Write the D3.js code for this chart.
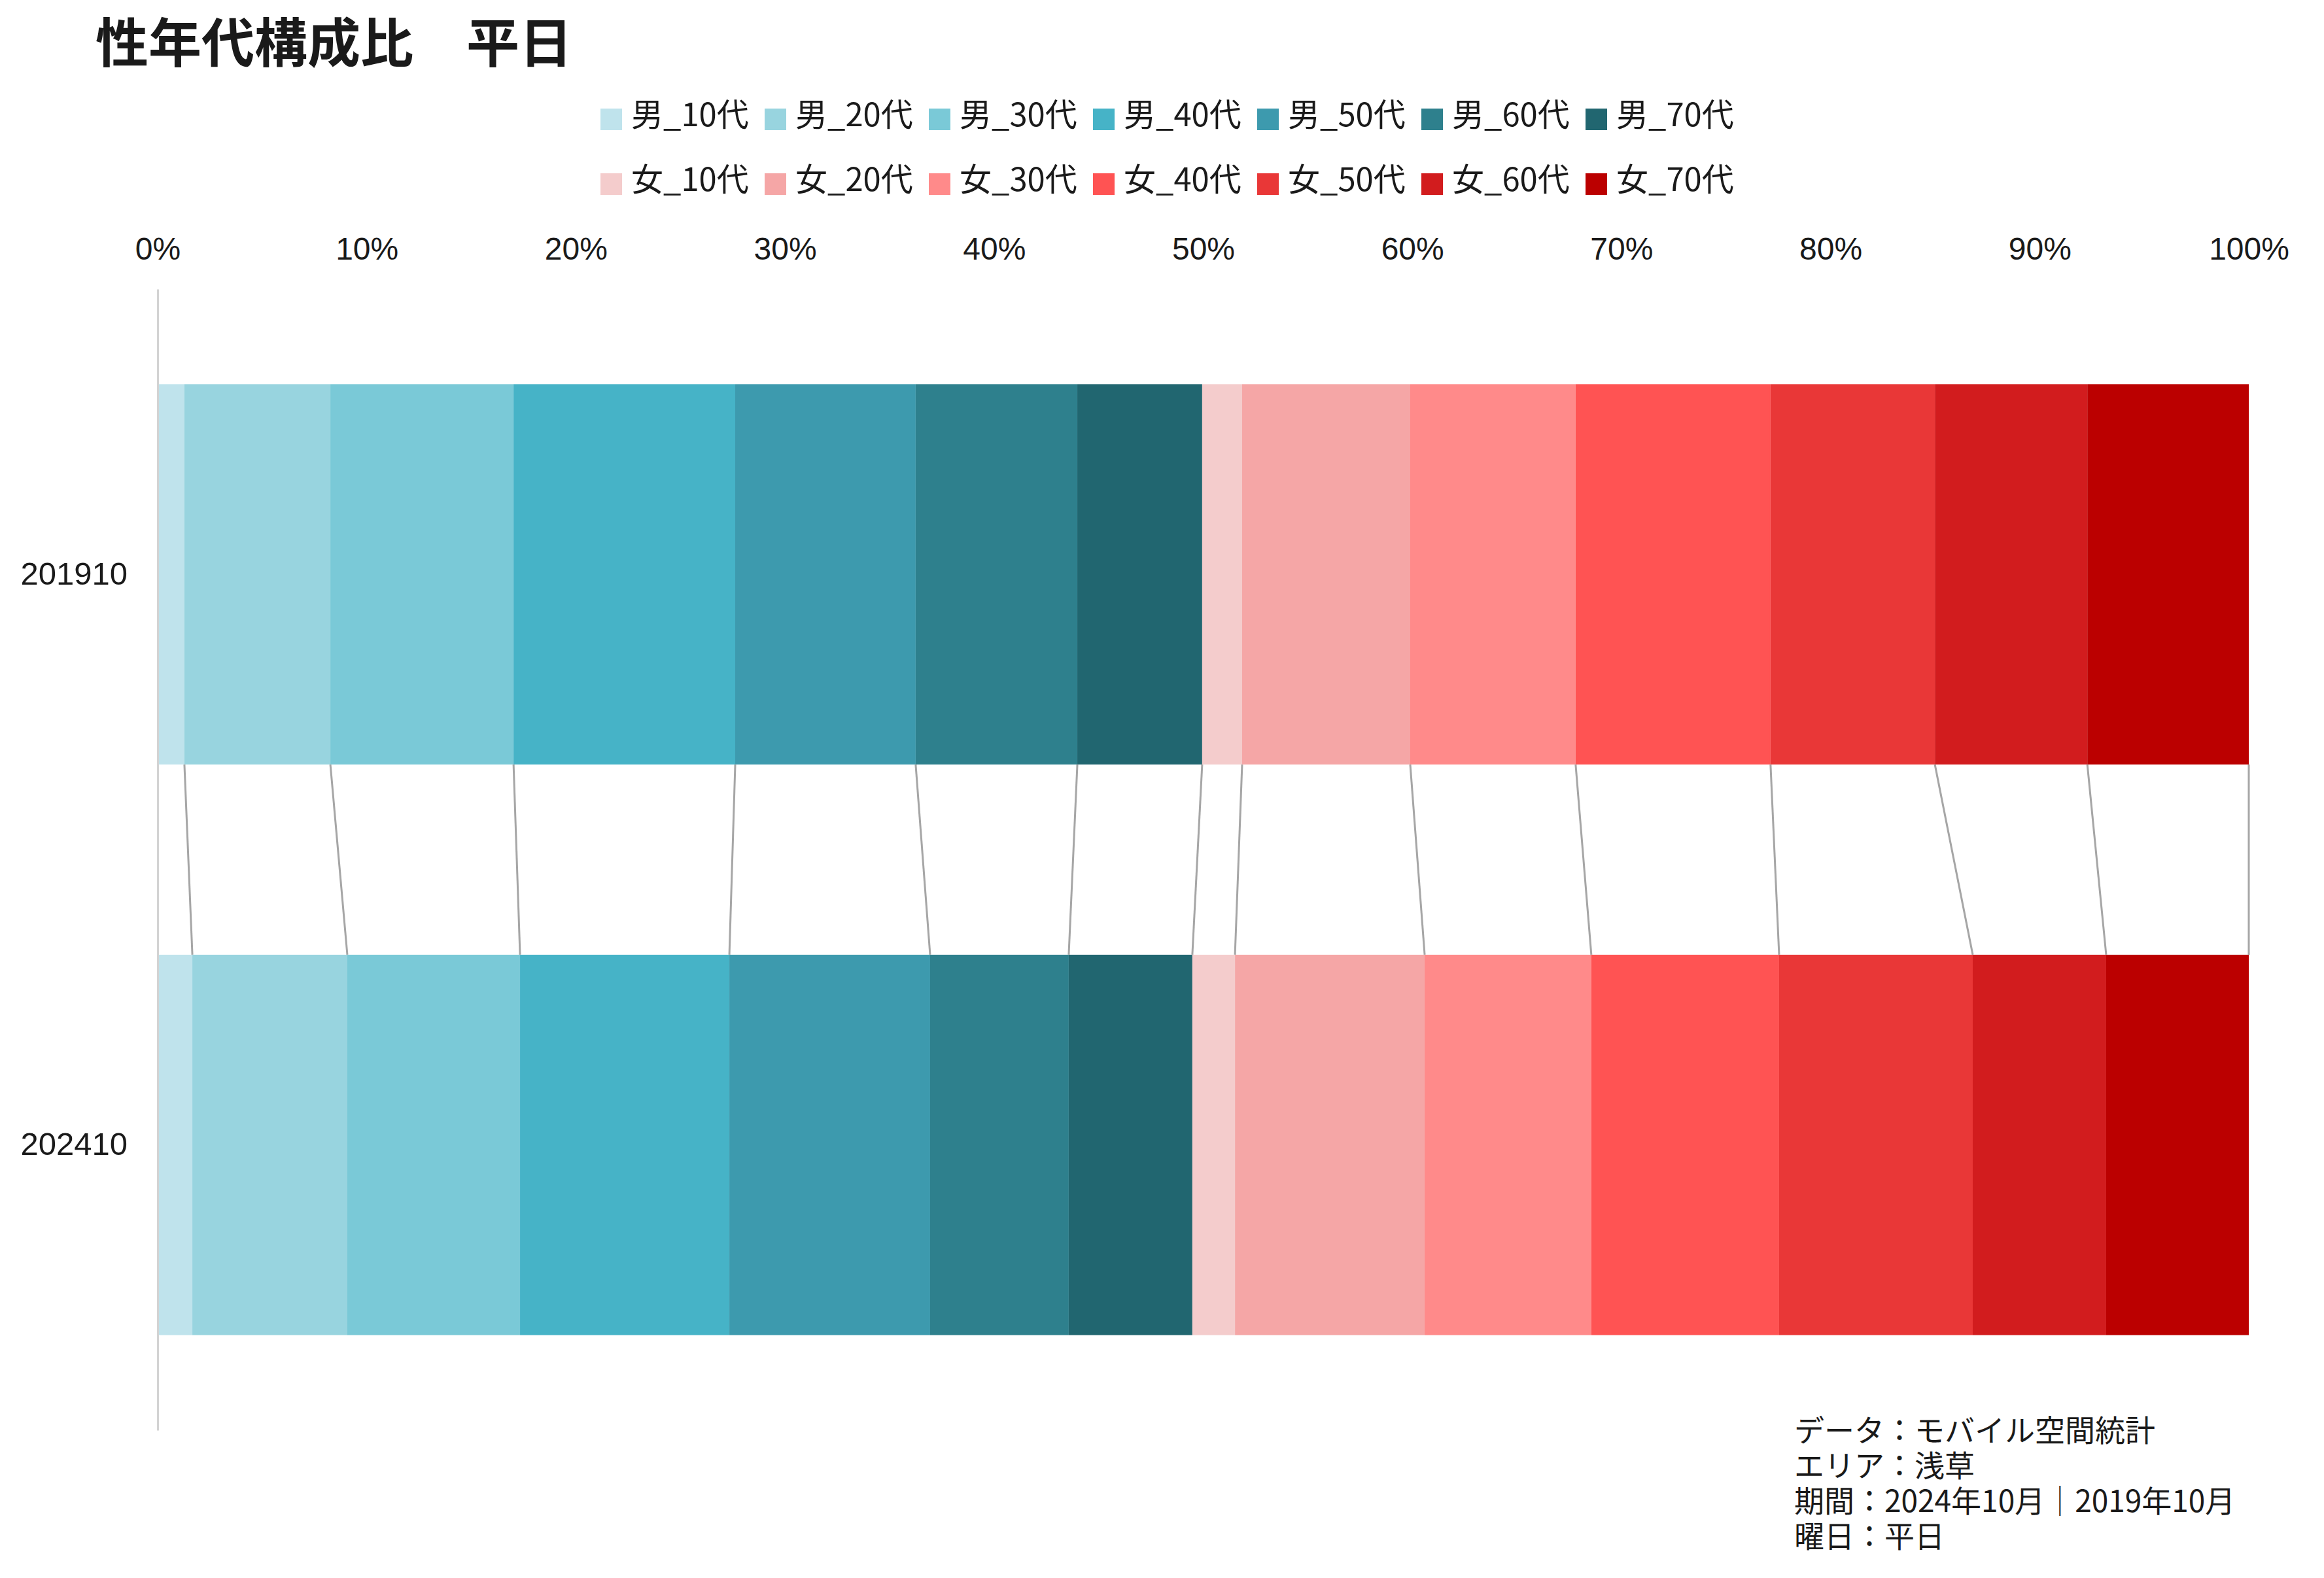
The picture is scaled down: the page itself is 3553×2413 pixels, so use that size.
<!DOCTYPE html>
<html lang="ja">

<head>
    <meta charset="UTF-8">
    <title>性年代構成比 平日</title>
    <script src="https://d3js.org/d3.v7.min.js"></script>
    <style type="text/css">
        body {
            margin: 0;
            background: #fff;
        }

        .jp {
            font-family: "Noto Sans CJK JP", sans-serif;
            fill: #1a1a1a;
        }

        .tick text {
            font-family: "Liberation Sans", Arial, sans-serif;
            fill: #1a1a1a;
        }
    </style>
</head>

<body>
    <div id="chart"></div>
    <script type="text/javascript">
        // data (percent of total)
        var categories = ['201910', '202410'];
        var seriesNames = ['男_10代', '男_20代', '男_30代', '男_40代', '男_50代', '男_60代', '男_70代',
            '女_10代', '女_20代', '女_30代', '女_40代', '女_50代', '女_60代', '女_70代'];
        var values201910 = [1.28, 6.98, 8.76, 10.60, 8.63, 7.73, 5.97, 1.91, 8.04, 7.91, 9.32, 7.86, 7.29, 7.72];
        var values202410 = [1.66, 7.41, 8.26, 10.01, 9.60, 6.63, 5.91, 2.04, 9.07, 7.97, 8.98, 9.26, 6.38, 6.82];
        var seriesColors = ['#bfe3ec', '#98d4df', '#7ac9d7', '#46b3c7', '#3d9aae', '#2e808d', '#216670',
            '#f4cccc', '#f5a6a6', '#ff8a8a', '#ff5353', '#e93737', '#d21c1e', '#bb0000'];
        var xTicks = [0, 10, 20, 30, 40, 50, 60, 70, 80, 90, 100];
        var titleText = '性年代構成比　平日';
        var noteLines = ['データ：モバイル空間統計', 'エリア：浅草', '期間：2024年10月｜2019年10月', '曜日：平日'];

        var w = 3553, h = 2413;
        var plotLeft = 241, plotRight = 3438, plotTop = 442, plotBottom = 2187;

        var table = categories.map(function (c, ci) {
            var vals = ci === 0 ? values201910 : values202410;
            var row = { cat: c };
            seriesNames.forEach(function (s, i) { row[s] = vals[i]; });
            return row;
        });

        var svg = d3.select('#chart').append('svg')
            .attr('width', w)
            .attr('height', h);

        var xScale = d3.scaleLinear().domain([0, 100]).range([plotLeft, plotRight]);
        var yScale = d3.scaleBand()
            .domain(categories)
            .range([plotTop, plotBottom])
            .paddingInner(1 / 3)
            .paddingOuter(1 / 6);
        var color = d3.scaleOrdinal().domain(seriesNames).range(seriesColors);

        var stacked = d3.stack().keys(seriesNames)(table);

        // bars
        svg.append('g').selectAll('g')
            .data(stacked)
            .enter().append('g')
            .attr('fill', function (d) { return color(d.key); })
            .selectAll('rect')
            .data(function (d) { return d; })
            .enter().append('rect')
            .attr('x', function (d) { return xScale(d[0]); })
            .attr('y', function (d) { return yScale(d.data.cat); })
            .attr('width', function (d) { return xScale(d[1]) - xScale(d[0]); })
            .attr('height', yScale.bandwidth());

        // connector lines between the two bars
        svg.append('g').selectAll('line')
            .data(stacked)
            .enter().append('line')
            .attr('x1', function (d) { return xScale(d[0][1]); })
            .attr('y1', yScale(categories[0]) + yScale.bandwidth())
            .attr('x2', function (d) { return xScale(d[1][1]); })
            .attr('y2', yScale(categories[1]))
            .attr('stroke', '#a6a6a6')
            .attr('stroke-width', 3);

        // top axis
        var xAxis = svg.append('g')
            .attr('transform', 'translate(0,' + plotTop + ')')
            .call(d3.axisTop(xScale).tickValues(xTicks)
                .tickFormat(function (d) { return d + '%'; })
                .tickSize(0).tickPadding(45));
        xAxis.select('.domain').remove();
        xAxis.selectAll('text').attr('font-size', 48);

        // left axis
        var yAxis = svg.append('g')
            .attr('transform', 'translate(' + plotLeft + ',0)')
            .call(d3.axisLeft(yScale).tickSize(0).tickSizeOuter(0).tickPadding(46));
        yAxis.select('.domain').attr('stroke', '#d3d3d3').attr('stroke-width', 3);
        yAxis.selectAll('text').attr('font-size', 49);

        // title
        svg.append('text')
            .attr('class', 'jp')
            .attr('x', 146)
            .attr('y', 95)
            .attr('font-size', 81)
            .attr('font-weight', 'bold')
            .attr('fill', '#111')
            .text(titleText);

        // legend
        var legend = svg.append('g').selectAll('g')
            .data(seriesNames)
            .enter().append('g')
            .attr('transform', function (d, i) {
                return 'translate(' + (918 + (i % 7) * 251) + ',' + (166 + Math.floor(i / 7) * 99) + ')';
            });
        legend.append('rect')
            .attr('width', 33)
            .attr('height', 33)
            .attr('fill', function (d) { return color(d); });
        legend.append('text')
            .attr('class', 'jp')
            .attr('x', 47)
            .attr('y', 27)
            .attr('font-size', 49)
            .text(function (d) { return d; });

        // source note
        svg.append('g').selectAll('text')
            .data(noteLines)
            .enter().append('text')
            .attr('class', 'jp')
            .attr('x', 2743)
            .attr('y', function (d, i) { return 2204 + i * 54; })
            .attr('font-size', 46)
            .text(function (d) { return d; });
    </script>
</body>

</html>
